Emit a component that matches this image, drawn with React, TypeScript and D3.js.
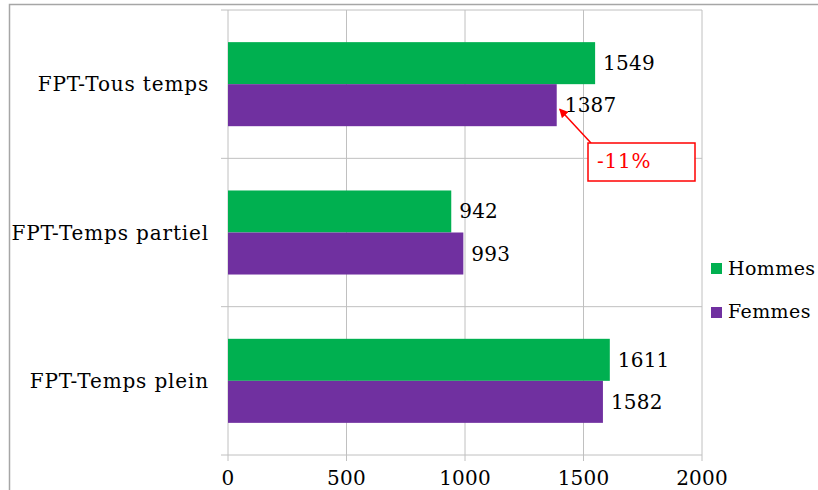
import React from "react";
import * as d3 from "d3";

const categories = ["FPT-Tous temps", "FPT-Temps partiel", "FPT-Temps plein"];
const seriesNames = ["Hommes", "Femmes"];
const hommes = [1549, 942, 1611];
const femmes = [1387, 993, 1582];
const xTicks = [0, 500, 1000, 1500, 2000];
const annotationText = "-11%";

const colors = ["#00B050", "#7030A0"];
const FONT = "'DejaVu Serif', serif";

export default function App() {
  const W = 818, H = 490;
  const left = 228, right = 702, top = 10, bottom = 455;
  const x = d3.scaleLinear().domain([0, 2000]).range([left, right]);
  const y = d3.scaleBand().domain(categories).range([top, bottom]);
  const bw = y.bandwidth();
  const barH = bw * 0.2833;
  const pad = (bw - 2 * barH) / 2;
  const values = [hommes, femmes];

  const y0 = y(categories[0])!;
  const fBarY = y0 + pad + barH;
  const arrowTip = [x(femmes[0]) + 3, fBarY + barH / 2 + 4];
  const box = { x: 588, y: 143, w: 107, h: 38 };

  return (
    <div style={{ position: "absolute", left: 0, top: 0 }}>
      <svg width={W} height={H} style={{ display: "block", background: "#fff" }}>
        <defs>
          <marker id="ah" viewBox="0 0 10 10" refX="9" refY="5" markerWidth="6" markerHeight="6" orient="auto">
            <path d="M0,0 L10,5 L0,10 z" fill="#FF0000" />
          </marker>
        </defs>
        {/* outer border */}
        <rect x={9.5} y={4.5} width={W + 20} height={H + 20} fill="none" stroke="#a6a6a6" strokeWidth={1.5} />
        {/* vertical gridlines */}
        {xTicks.map((t) => (
          <line key={"g" + t} x1={x(t)} x2={x(t)} y1={top} y2={bottom + 6} stroke="#c0c0c0" strokeWidth={1} />
        ))}
        {/* category separators */}
        {[0, 1, 2, 3].map((i) => {
          const yy = top + i * bw;
          return <line key={"c" + i} x1={left - 7} x2={right} y1={yy} y2={yy} stroke="#c0c0c0" />;
        })}
        {/* bars */}
        {categories.map((c, ci) =>
          values.map((vals, si) => {
            const by = y(c)! + pad + si * barH;
            return (
              <g key={c + si}>
                <rect x={x(0)} y={by} width={x(vals[ci]) - x(0)} height={barH} fill={colors[si]} />
                <text x={x(vals[ci]) + 8} y={by + barH / 2} dy="0.35em" fontFamily={FONT} fontSize={20} letterSpacing={0.2} fill="#000">
                  {vals[ci]}
                </text>
              </g>
            );
          })
        )}
        {/* category labels */}
        {categories.map((c) => (
          <text key={c} x={209} y={y(c)! + bw / 2} dy="0.35em" textAnchor="end" fontFamily={FONT} fontSize={20} letterSpacing={0.85} fill="#000">
            {c}
          </text>
        ))}
        {/* x tick labels */}
        {xTicks.map((t) => (
          <text key={"t" + t} x={x(t)} y={485} textAnchor="middle" fontFamily={FONT} fontSize={20} letterSpacing={0.2} fill="#000">
            {t}
          </text>
        ))}
        {/* legend */}
        {seriesNames.map((s, i) => (
          <g key={s}>
            <rect x={711} y={263 + i * 44} width={11} height={11} fill={colors[i]} />
            <text x={728} y={275 + i * 43} fontFamily={FONT} fontSize={19} letterSpacing={0.4} fill="#000">
              {s}
            </text>
          </g>
        ))}
        {/* annotation */}
        <line x1={box.x + 3} y1={box.y} x2={arrowTip[0]} y2={arrowTip[1]} stroke="#FF0000" strokeWidth={1.5} markerEnd="url(#ah)" />
        <rect x={box.x} y={box.y} width={box.w} height={box.h} fill="#fff" stroke="#FF0000" strokeWidth={1.5} />
        <text x={box.x + 9} y={box.y + 25} fontFamily={FONT} fontSize={20} letterSpacing={0.8} fill="#FF0000">
          {annotationText}
        </text>
      </svg>
    </div>
  );
}
